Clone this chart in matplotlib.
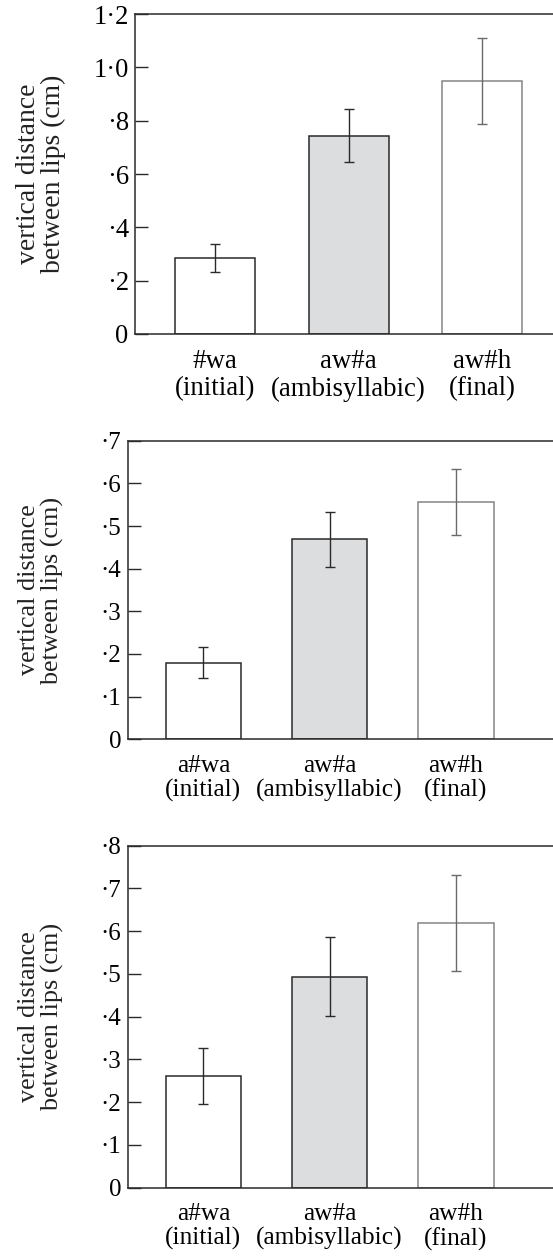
import matplotlib
matplotlib.use("Agg")
import matplotlib.pyplot as plt
import numpy as np

plt.rcParams['font.family'] = ['Liberation Serif', 'DejaVu Serif']

# ---- data ----
labels_1 = ["#wa\n(initial)", "aw#a\n(ambisyllabic)", "aw#h\n(final)"]
labels_2 = ["a#wa\n(initial)", "aw#a\n(ambisyllabic)", "aw#h\n(final)"]
labels_3 = ["a#wa\n(initial)", "aw#a\n(ambisyllabic)", "aw#h\n(final)"]

means_1 = [0.284, 0.744, 0.950]
errs_1 = [0.052, 0.098, 0.161]
means_2 = [0.180, 0.469, 0.556]
errs_2 = [0.037, 0.065, 0.078]
means_3 = [0.261, 0.494, 0.620]
errs_3 = [0.065, 0.092, 0.112]

yticks_1 = [0, 0.2, 0.4, 0.6, 0.8, 1.0, 1.2]
yticklabels_1 = ["0", "·2", "·4", "·6", "·8", "1·0", "1·2"]
yticks_2 = [0, 0.1, 0.2, 0.3, 0.4, 0.5, 0.6, 0.7]
yticklabels_2 = ["0", "·1", "·2", "·3", "·4", "·5", "·6", "·7"]
yticks_3 = [0, 0.1, 0.2, 0.3, 0.4, 0.5, 0.6, 0.7, 0.8]
yticklabels_3 = ["0", "·1", "·2", "·3", "·4", "·5", "·6", "·7", "·8"]

ylabel = "vertical distance\nbetween lips (cm)"

W, H = 553, 1260
fig = plt.figure(figsize=(W / 100, H / 100), dpi=100)

fills = ["white", "#dcdddf", "white"]
edges = ["#2a2a2a", "#2a2a2a", "#858585"]
ecols = ["#2a2a2a", "#2a2a2a", "#6a6a6a"]

panels = [
    dict(rect=[135 / W, 1 - 334 / H, 1 - 135 / W, (334 - 14) / H], labels=labels_1,
         means=means_1, errs=errs_1, yt=yticks_1, ytl=yticklabels_1, xlim=(-0.6, 2.53),
         ylim=(0, 1.2), s=1.06),
    dict(rect=[127.7 / W, 1 - 739.3 / H, 1 - 127.7 / W, (739.3 - 440.7) / H], labels=labels_2,
         means=means_2, errs=errs_2, yt=yticks_2, ytl=yticklabels_2, xlim=(-0.6, 2.77),
         ylim=(0, 0.7), s=1.0),
    dict(rect=[127.7 / W, 1 - 1187.7 / H, 1 - 127.7 / W, (1187.7 - 845.7) / H], labels=labels_3,
         means=means_3, errs=errs_3, yt=yticks_3, ytl=yticklabels_3, xlim=(-0.6, 2.77),
         ylim=(0, 0.8), s=1.0),
]

for p in panels:
    s = p["s"]
    ax = fig.add_axes(p["rect"])
    x = np.arange(len(p["means"]))
    for i in range(len(x)):
        ax.bar(x[i], p["means"][i], width=0.6, color=fills[i], edgecolor=edges[i],
               linewidth=1.1, zorder=2)
        ax.errorbar(x[i], p["means"][i], yerr=p["errs"][i], fmt="none", ecolor=ecols[i],
                    elinewidth=1.0, capsize=3.6, capthick=1.0, zorder=3)
    ax.set_xlim(*p["xlim"])
    ax.set_ylim(*p["ylim"])
    ax.set_yticks(p["yt"])
    ax.set_yticklabels(p["ytl"], fontsize=18 * s)
    ax.set_xticks(x)
    ax.set_xticklabels(p["labels"], fontsize=18.3 * s, linespacing=1.12)
    ax.tick_params(axis="x", length=0, pad=11)
    ax.tick_params(axis="y", direction="in", length=9.2, width=1.0, color="#2a2a2a", pad=4.5)
    ax.spines["right"].set_visible(False)
    for sp in ["left", "top", "bottom"]:
        ax.spines[sp].set_linewidth(1.1)
        ax.spines[sp].set_color("#2a2a2a")
    r = p["rect"]
    fig.text(41 / W, r[1] + r[3] / 2, ylabel, rotation=90, ha="center", va="center",
             fontsize=18.8 * s, linespacing=1.0, color="#222222")

fig.savefig("out.png", dpi=100)
